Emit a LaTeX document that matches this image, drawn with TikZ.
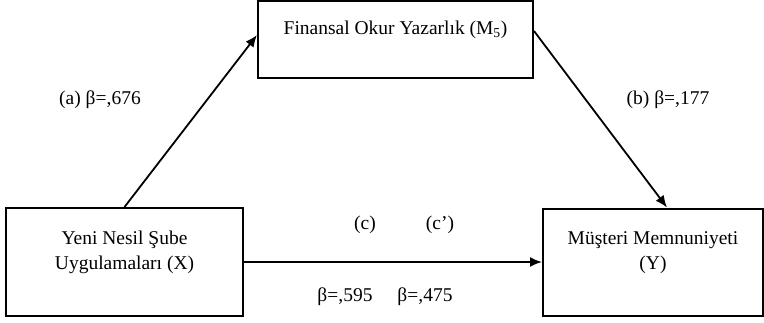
\documentclass[tikz,border=0pt]{standalone}
\usepackage{fontspec}
\setmainfont{Liberation Serif}
\usetikzlibrary{positioning, arrows.meta}
\tikzstyle{var}=[%
      rectangle, draw=black, line width=2pt, fill=none,
      inner sep=6pt
]
\tikzstyle{coef}=[%
      inner sep=0pt
]

\begin{document}
\begin{tikzpicture}[x=1pt, y=-1pt,
    font=\fontsize{19.5}{25}\selectfont,
    line width=1.8pt,
    -{Latex[length=12pt,width=10pt]}
  ]
    \useasboundingbox (0,0) rectangle (764,322);

    \node[var, minimum width=237pt, minimum height=108pt,
          label={[name=Xt, align=center, yshift=9.5pt]center:Yeni Nesil Şube\\Uygulamaları (X)}]
          (X) at (124.5,262) {};
    \node[var, minimum width=220pt, minimum height=107pt,
          label={[name=Yt, align=center, yshift=9.5pt]center:Müşteri Memnuniyeti\\(Y)}]
          (Y) [right = 298pt of X] {};
    \node[var, minimum width=275pt, minimum height=77pt,
          label={[name=Mt, yshift=9.5pt]center:Finansal Okur Yazarlık (M\textsubscript{5})}]
          (M) [above right = 128pt and 13pt of X.north east] {};

    \path (X.north) edge ([yshift=4.5pt]M.west)
          ([yshift=8.5pt]M.east) edge ([xshift=14pt]Y.north)
          (X.east) edge (Y.west)
    ;

    \node[coef] (a)  at (100,100) {(a) β=,676};
    \node[coef] (b)  at (668,100) {(b) β=,177};
    \node[coef] (c)  at (365,225) {(c)};
    \node[coef] (cp) at (440,225) {(c’)};
    \node[coef] (bc)  at (345,297) {β=,595};
    \node[coef] (bcp) at (425,297) {β=,475};

  \end{tikzpicture}
\end{document}
